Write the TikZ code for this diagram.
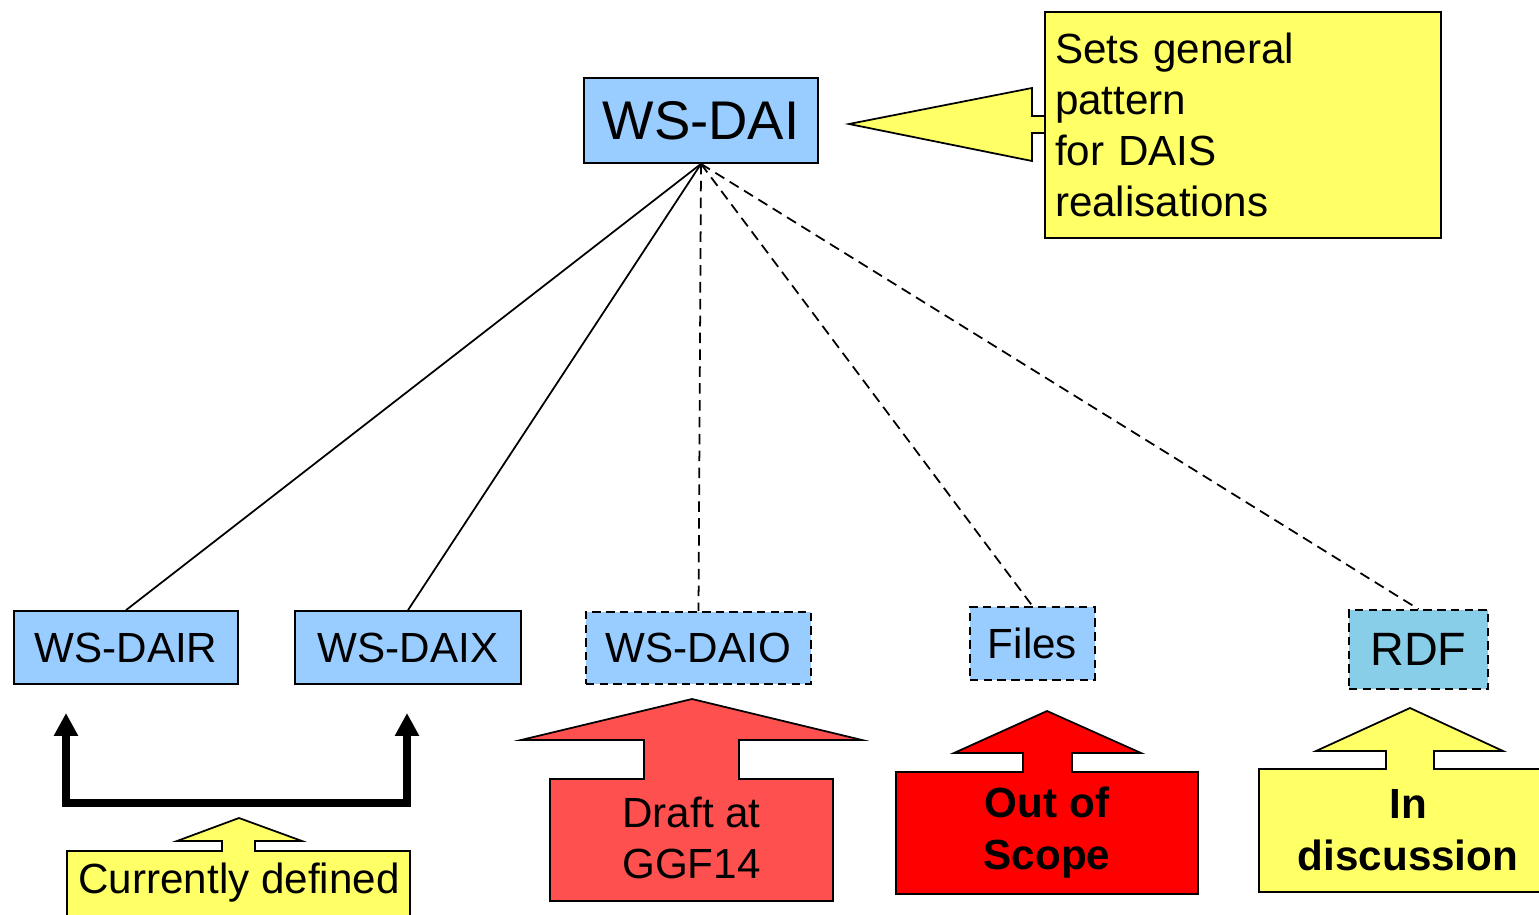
\documentclass[tikz,border=0pt]{standalone}
\usepackage{fontspec}
\setmainfont{Liberation Sans}
\usetikzlibrary{arrows.meta}
\definecolor{boxblue}{RGB}{153,204,255}
\definecolor{rdfblue}{RGB}{136,206,232}
\definecolor{noteyellow}{RGB}{255,255,102}
\definecolor{draftred}{RGB}{255,80,80}
\definecolor{scopered}{RGB}{255,0,0}
\tikzset{
    spec/.style={draw, rectangle, line width=0.5pt, fill=boxblue, inner sep=0pt, font=\fontsize{12}{14.4}\selectfont, align=center},
    specDraft/.style={spec, dash pattern=on 2.4pt off 1.5pt},
    link/.style={line width=0.5pt},
    linkDraft/.style={link, dash pattern=on 3pt off 1.8pt},
    callout/.style={draw, line width=0.5pt, line join=miter},
    calltext/.style={inner sep=0pt, align=center, font=\fontsize{12}{14.5}\selectfont},
    bracketArrow/.style={line width=2.1pt, {Triangle[width=6.5pt,length=6.5pt]}-{Triangle[width=6.5pt,length=6.5pt]}},
}

\begin{document}
\begin{tikzpicture}
\useasboundingbox (0,0) rectangle (15.39,9.14);

% top level spec
\node[spec, minimum width=2.34cm, minimum height=0.85cm, font=\fontsize{15.5}{18}\selectfont] (dai) at (7.01, 7.935) {WS-DAI};

% realisations
\node[spec, minimum width=2.24cm, minimum height=0.73cm] (dair) at (1.26, 2.665) {WS-DAIR};
\node[spec, minimum width=2.26cm, minimum height=0.73cm] (daix) at (4.08, 2.665) {WS-DAIX};
\node[specDraft, minimum width=2.25cm, minimum height=0.72cm] (daio) at (6.985, 2.66) {WS-DAIO};
\node[specDraft, minimum width=1.25cm, minimum height=0.73cm] (files) at (10.325, 2.705) {Files};
\node[specDraft, fill=rdfblue, minimum width=1.39cm, minimum height=0.79cm, font=\fontsize{13.3}{16}\selectfont] (rdf) at (14.185, 2.645) {RDF};

\draw[link] (dai.south) -- (dair.north);
\draw[link] (dai.south) -- (daix.north);
\draw[linkDraft] (dai.south) -- (daio.north);
\draw[linkDraft] (dai.south) -- (files.north);
\draw[linkDraft] (dai.south) -- (rdf.north);

% note on WS-DAI
\node[callout, fill=noteyellow, minimum width=3.96cm, minimum height=2.26cm, text width=3.76cm, inner xsep=0.1cm, align=left, font=\fontsize{12}{14.5}\selectfont] (pattern) at (12.43, 7.89) {Sets general\\pattern\\for DAIS\\realisations};
\filldraw[callout, fill=noteyellow] (8.49,7.90) -- (10.32,8.26) -- (10.32,7.98) -- (10.45,7.98) -- (10.45,7.81) -- (10.32,7.81) -- (10.32,7.53) -- cycle;

% currently defined
\coordinate (curL) at (0.66, 2.01);
\coordinate (curR) at (4.07, 2.01);
\draw[bracketArrow] (curL) -- (0.66, 1.11) -- (4.07, 1.11) -- (curR);
\filldraw[callout, fill=noteyellow] (0.67,-0.10) -- (0.67,0.63) -- (2.22,0.63) -- (2.22,0.73) -- (1.77,0.73) -- (2.39,0.96) -- (3.02,0.73) -- (2.55,0.73) -- (2.55,0.63) -- (4.10,0.63) -- (4.10,-0.10) -- cycle;
\node[calltext, font=\fontsize{12}{14.5}\selectfont] (current) at (2.39, 0.31) {Currently defined};

% draft
\filldraw[callout, fill=draftred] (5.50,0.13) -- (5.50,1.35) -- (6.44,1.35) -- (6.44,1.74) -- (5.21,1.74) -- (6.92,2.15) -- (8.62,1.74) -- (7.39,1.74) -- (7.39,1.35) -- (8.33,1.35) -- (8.33,0.13) -- cycle;
\node[calltext] (draft) at (6.915, 0.76) {Draft at\\GGF14};

% out of scope
\filldraw[callout, fill=scopered] (8.96,0.20) -- (8.96,1.42) -- (10.23,1.42) -- (10.23,1.61) -- (9.54,1.61) -- (10.47,2.03) -- (11.41,1.61) -- (10.72,1.61) -- (10.72,1.42) -- (11.98,1.42) -- (11.98,0.20) -- cycle;
\node[calltext, font=\bfseries\fontsize{12}{14.8}\selectfont] (scope) at (10.47, 0.81) {Out of\\Scope};

% in discussion
\filldraw[callout, fill=noteyellow] (12.59,0.22) -- (12.59,1.45) -- (13.86,1.45) -- (13.86,1.63) -- (13.16,1.63) -- (14.10,2.06) -- (15.03,1.63) -- (14.34,1.63) -- (14.34,1.45) -- (15.59,1.45) -- (15.59,0.22) -- cycle;
\node[calltext, font=\bfseries\fontsize{12}{14.8}\selectfont] (discuss) at (14.08, 0.84) {In\\discussion};

\end{tikzpicture}
\end{document}
